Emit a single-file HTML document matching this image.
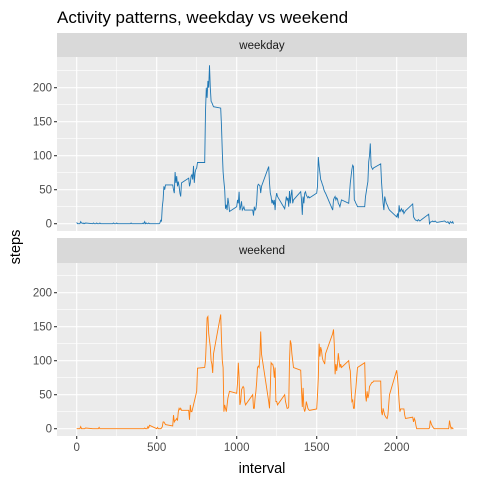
<!DOCTYPE html>
<html><head><meta charset="utf-8"><style>
body{margin:0;background:#fff}
svg{display:block;font-family:"Liberation Sans",Arial,sans-serif}
</style></head><body>
<svg id="chart" width="480" height="480" viewBox="0 0 480 480">
<text x="57" y="23" font-size="17" fill="#000">Activity patterns, weekday vs weekend</text>
<text transform="translate(20,247) rotate(-90)" text-anchor="middle" font-size="14.5" fill="#000">steps</text>
<text x="262" y="473" text-anchor="middle" font-size="14.5" fill="#000">interval</text>
<g id="panels"></g>
</svg>
<script>
const xTicks=[0,500,1000,1500,2000];
const xMinor=[250,750,1250,1750,2250];
const yTicks=[0,50,100,150,200];
const yMinor=[25,75,125,175,225];
const panelNames=["weekday","weekend"];
const weekdaySteps=[
2,0,0,0,0,3,1,1,0,1,0,1,
0,1,0,0,0,1,0,0,0,1,0,0,
0,0,0,0,0,0,1,0,0,0,1,0,
0,0,0,0,0,0,0,0,1,0,0,0,
0,0,0,1,0,3,0,1,0,0,1,0,
0,0,0,0,1,5,4,25,35,55,50,57,
57,50,45,76,60,70,55,62,55,45,40,60,
67,55,60,70,72,65,85,60,75,80,82,90,
90,165,200,185,210,200,233,200,180,178,175,172,
170,143,106,76,62,50,22,28,20,38,30,18,
25,35,30,47,20,25,33,20,22,25,20,20,
20,12,25,20,22,32,55,58,57,56,45,55,
84,60,45,40,30,35,28,35,20,38,45,40,
22,30,40,35,38,25,48,30,42,50,30,35,
47,35,13,40,30,45,47,42,40,38,40,38,
45,55,98,85,75,65,62,58,55,50,47,45,
20,35,38,40,35,38,36,30,28,25,30,35,
30,45,60,70,80,86,84,35,33,30,28,25,
25,40,47,55,62,91,100,118,85,82,80,82,
88,62,45,30,20,40,35,30,28,25,22,20,
10,15,8,27,17,20,22,18,20,15,17,19,
29,10,8,6,5,5,4,6,5,4,5,6,
14,0,2,3,3,4,3,3,4,3,2,2,
4,3,2,2,3,1,0,3,2,1,3,0];
const weekendSteps=[
0,0,0,0,0,3,0,0,0,0,0,1,
0,0,0,0,0,0,0,0,2,0,0,0,
0,0,0,0,0,0,0,0,0,0,0,0,
0,0,0,0,0,0,0,0,0,0,0,0,
0,0,0,0,0,1,0,0,0,3,1,5,
0,2,0,0,0,0,1,3,10,10,8,6,
4,20,10,12,13,15,12,25,30,28,30,27,
27,13,35,25,25,30,35,40,45,50,55,89,
90,100,128,163,165,140,130,120,100,95,82,110,
168,130,100,90,25,35,30,25,35,45,50,55,
52,67,97,75,35,40,57,60,62,60,40,35,
50,30,30,45,55,69,90,92,90,106,143,110,
40,30,60,97,95,95,90,75,90,40,40,35,
50,40,35,30,30,32,100,130,125,110,100,90,
86,57,32,60,30,25,30,40,35,30,28,27,
29,50,75,125,106,120,115,105,100,98,95,110,
140,146,123,80,95,85,95,111,100,90,95,90,
100,90,85,60,40,42,30,30,50,60,75,90,
97,50,40,55,45,50,62,64,66,68,68,70,
70,25,20,30,25,20,18,16,15,20,35,50,
86,75,60,40,25,29,29,29,29,29,20,15,
17,10,15,12,5,0,0,0,0,0,0,0,
0,1,12,8,5,3,1,0,0,0,0,0,
0,0,0,0,0,0,12,5,0,2,0,0];
const intervals=[];
for(let h=0;h<24;h++)for(let m=0;m<60;m+=5)intervals.push(h*100+m);

const NS="http://www.w3.org/2000/svg";
const g=document.getElementById('panels');
const PL=57,PR=467;
const x=v=>76.7+0.16*v;
const panels=[{stripTop:33,top:57,bottom:231,zero:223.7,data:weekdaySteps,color:"#1f77b4"},
              {stripTop:238,top:263,bottom:436,zero:428.7,data:weekendSteps,color:"#ff7f0e"}];
function mk(tag,attrs){const e=document.createElementNS(NS,tag);for(const k in attrs)e.setAttribute(k,attrs[k]);return e;}
panels.forEach((p,pi)=>{
  const y=v=>p.zero-0.68*v;
  const strip=mk('rect',{x:PL,y:p.stripTop,width:PR-PL,height:p.top-p.stripTop,fill:"#d9d9d9"});
  
  
  g.appendChild(strip);
  const st=mk('text',{x:(PL+PR)/2,y:p.stripTop+16,'text-anchor':'middle','font-size':'11.5',fill:'#1a1a1a'});
  st.textContent=panelNames[pi];
  
  
  g.appendChild(st);
  const bg=mk('rect',{x:PL,y:p.top,width:PR-PL,height:p.bottom-p.top,fill:"#ebebeb"});
  
  
  g.appendChild(bg);
  yMinor.forEach(v=>{const l=mk('line',{x1:PL,x2:PR,y1:y(v),y2:y(v),stroke:'#fff','stroke-width':0.55});
    g.appendChild(l);});
  xMinor.forEach(v=>{const l=mk('line',{x1:x(v),x2:x(v),y1:p.top,y2:p.bottom,stroke:'#fff','stroke-width':0.55});
    g.appendChild(l);});
  yTicks.forEach(v=>{const l=mk('line',{x1:PL,x2:PR,y1:y(v),y2:y(v),stroke:'#fff','stroke-width':1.1});
    g.appendChild(l);
    const t=mk('line',{x1:PL-3,x2:PL,y1:y(v),y2:y(v),stroke:'#333','stroke-width':1.1});
    g.appendChild(t);
    const tx=mk('text',{x:PL-5,y:y(v)+4,'text-anchor':'end','font-size':'11.5',fill:'#4d4d4d'});
    tx.textContent=v;g.appendChild(tx);});
  xTicks.forEach(v=>{const l=mk('line',{x1:x(v),x2:x(v),y1:p.top,y2:p.bottom,stroke:'#fff','stroke-width':1.1});
    g.appendChild(l);});
  const pts=p.data.map((v,i)=>x(intervals[i]).toFixed(2)+','+y(v).toFixed(2)).join(' ');
  const line=mk('polyline',{points:pts,fill:'none',stroke:p.color,'stroke-width':0.9});
  
  
  g.appendChild(line);
  if(pi===1){
    xTicks.forEach(v=>{const t=mk('line',{x1:x(v),x2:x(v),y1:p.bottom,y2:p.bottom+3,stroke:'#333','stroke-width':1.1});
      g.appendChild(t);
      const tx=mk('text',{x:x(v),y:p.bottom+15,'text-anchor':'middle','font-size':'11.5',fill:'#4d4d4d'});
      tx.textContent=v;g.appendChild(tx);});
  }
});
</script>
</body></html>
